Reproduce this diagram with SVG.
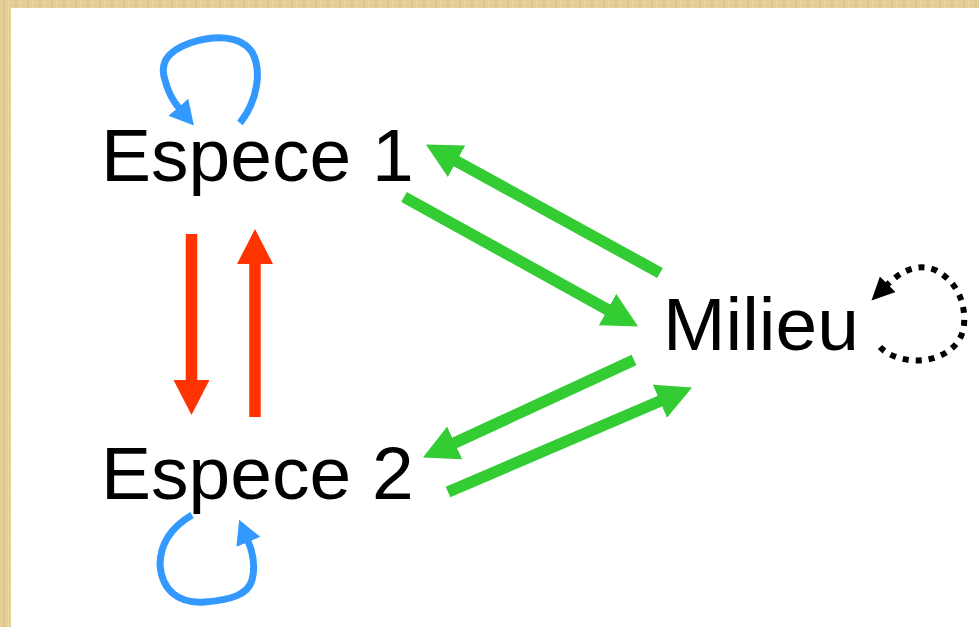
<svg xmlns="http://www.w3.org/2000/svg" width="979" height="627" viewBox="0 0 979 627">
  <defs>
    <pattern id="paper" width="12" height="12" patternUnits="userSpaceOnUse">
      <rect width="12" height="12" fill="#e6cf96"/>
      <rect x="3" width="2" height="12" fill="#dfc489" opacity="0.7"/>
      <rect x="8" width="1" height="12" fill="#eed9a6" opacity="0.8"/>
      <rect y="5" width="12" height="1" fill="#d9bf86" opacity="0.4"/>
    </pattern>
    <marker id="hRed" markerUnits="userSpaceOnUse" markerWidth="36" markerHeight="36" refX="1" refY="18" orient="auto" viewBox="0 0 36 36">
      <path d="M0,0 L35,18 L0,36 z" fill="#ff3300"/>
    </marker>
    <marker id="hGreen" markerUnits="userSpaceOnUse" markerWidth="36" markerHeight="36" refX="1" refY="18" orient="auto" viewBox="0 0 36 36">
      <path d="M0,0 L35,18 L0,36 z" fill="#33cc33"/>
    </marker>
    <marker id="hBlue" markerUnits="userSpaceOnUse" markerWidth="26" markerHeight="26" refX="1" refY="13" orient="auto" viewBox="0 0 26 26">
      <path d="M0,0 L24,13 L0,26 z" fill="#3399ff"/>
    </marker>
    <marker id="hBlack" markerUnits="userSpaceOnUse" markerWidth="24" markerHeight="22" refX="1" refY="11" orient="auto" viewBox="0 0 24 22">
      <path d="M0,0 L23,11 L0,22 z" fill="#000"/>
    </marker>
  </defs>
  <style>
    .lbl { font-family: "Liberation Sans", Arial, sans-serif; font-size: 75px; fill: #000; }
    .red { stroke: #ff3300; stroke-width: 11.5; fill: none; marker-end: url(#hRed); }
    .green { stroke: #33cc33; stroke-width: 11.5; fill: none; marker-end: url(#hGreen); }
    .blue { stroke: #3399ff; stroke-width: 7; fill: none; marker-end: url(#hBlue); }
    .dot { stroke: #000; stroke-width: 6; stroke-dasharray: 6 7; fill: none; marker-end: url(#hBlack); }
  </style>
  <rect width="979" height="627" fill="url(#paper)"/>
  <rect x="11" y="8" width="968" height="619" fill="#ffffff"/>

  <g id="connectors">
    <path class="blue" d="M240,123 C258,100 262,70 252,52 C240,35 215,35 190,43 C165,52 160,65 165,80 C168,92 173,101 179,108"/>
    <path class="blue" d="M192,515 C170,528 160,545 160,565 C162,590 178,604 205,602 C230,600 248,595 252,580 C256,565 253,553 248,541"/>
    <path class="dot" d="M880,347 C890,358 910,362 925,360 C945,357 962,345 964,325 C966,300 955,280 935,270 C918,263 902,270 887,285"/>
    <line class="red" x1="191.5" y1="234" x2="191.5" y2="381"/>
    <line class="red" x1="255" y1="417" x2="255" y2="263"/>
    <line class="green" x1="660" y1="273" x2="455.7" y2="160.8"/>
    <line class="green" x1="404" y1="197" x2="608.4" y2="310.1"/>
    <line class="green" x1="634" y1="360" x2="453.8" y2="443.3"/>
    <line class="green" x1="448" y1="492" x2="660.8" y2="400.8"/>
  </g>

  <g id="espece1"><text class="lbl" x="101" y="181">Espece 1</text></g>
  <g id="espece2"><text class="lbl" x="101" y="499">Espece 2</text></g>
  <g id="milieu"><text class="lbl" x="663" y="350">Milieu</text></g>
</svg>
